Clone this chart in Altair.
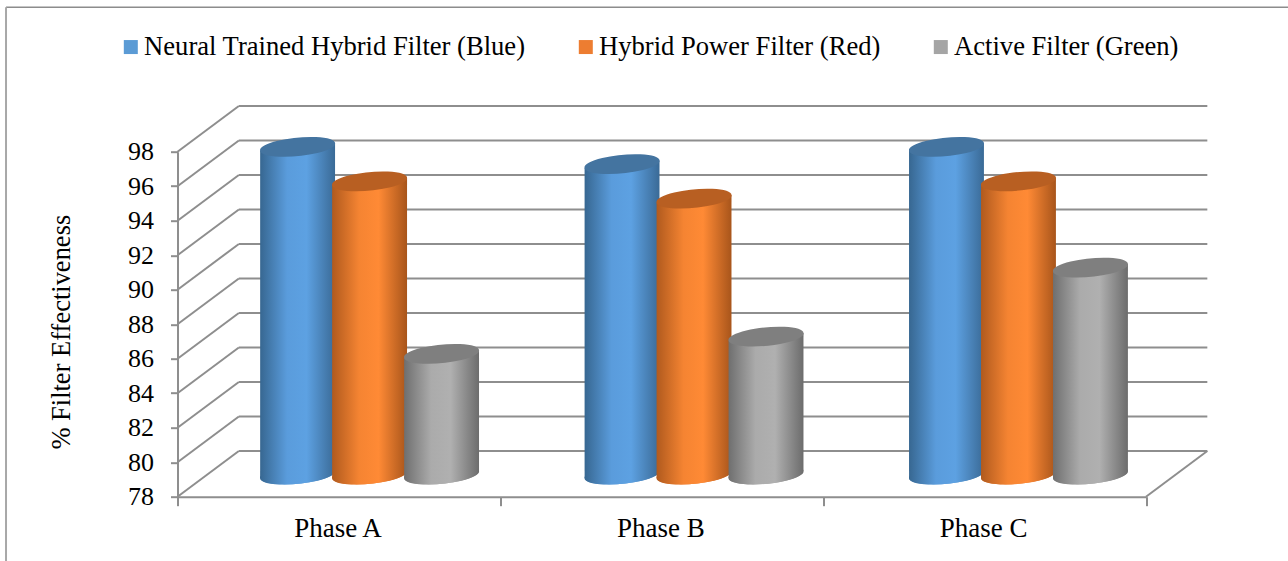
import altair as alt
import pandas as pd

phases = ["Phase A", "Phase B", "Phase C"]
series = [
    "Neural Trained Hybrid Filter (Blue)",
    "Hybrid Power Filter (Red)",
    "Active Filter (Green)",
]
effectiveness = [
    [97, 96, 97],
    [95, 94, 95],
    [85, 86, 90],
]
y_ticks = [78, 80, 82, 84, 86, 88, 90, 92, 94, 96, 98]
swatch_colors = ["#5B9BD5", "#ED7D31", "#A5A5A5"]
cap_colors = ["#4474A0", "#B85F22", "#7F7F7F"]
side_stops = [
    ["#376791", "#5A9CDC", "#5DA1E2", "#3A6A96"],
    ["#B05A1E", "#F58432", "#FF8A35", "#A8551B"],
    ["#6F6F6F", "#ABABAB", "#B0B0B0", "#6C6C6C"],
]
SERIF = "Liberation Serif"

# Oblique depth of the 3-D box, in axis units (phases across, percent upwards).
DEPTH_X = 0.19
DEPTH_Y = 2.65
MID_Y = 1.28          # lift of the cylinders, which stand halfway into the box
PITCH = 1.005         # distance between phase groups at mid depth
SLOT = 0.223          # spacing between neighbouring cylinders
HALF_W = 0.116        # half a cylinder's width
TILT = 0.21           # how far the elliptical ends lean
Y_FLOOR = y_ticks[0]

ELLIPSE = (
    "M-1,0.096 A1.005,0.24,-5.5,1,1,1,-0.096 "
    "A1.005,0.24,-5.5,1,1,-1,0.096 Z"
)
ELLIPSE_SIZE = 5625

x_scale = alt.Scale(domain=[0, 3], nice=False, zero=False)
y_scale = alt.Scale(domain=[78, 98], nice=False, zero=False)
GRID = "#8E8E8E"

x_axis = alt.Axis(
    values=[0, 1, 2, 3],
    title=None,
    grid=False,
    domainColor=GRID,
    domainWidth=2,
    tickColor=GRID,
    tickWidth=2,
    tickSize=9,
    labelFont=SERIF,
    labelFontSize=27,
    labelColor="#000000",
    labelOffset=160,
    labelPadding=10,
    labelFlush=False,
    labelOverlap=False,
    labelExpr="datum.value == 0 ? 'Phase A' : datum.value == 1 ? 'Phase B' : datum.value == 2 ? 'Phase C' : ''",
)
y_axis = alt.Axis(
    values=y_ticks,
    title="% Filter Effectiveness",
    titleFont=SERIF,
    titleFontSize=26.5,
    titleFontWeight="normal",
    titleColor="#000000",
    titleX=-102.5,
    titleY=180,
    grid=False,
    domainColor=GRID,
    domainWidth=2,
    tickColor=GRID,
    tickWidth=2,
    tickSize=7,
    labelFont=SERIF,
    labelFontSize=26,
    labelColor="#000000",
    labelPadding=17,
    labelOverlap=False,
)


def X(field):
    return alt.X(field, scale=x_scale, axis=x_axis)


def Y(field):
    return alt.Y(field, scale=y_scale, axis=y_axis)


# Walls: a horizontal line along the back and a diagonal up the side at each tick.
walls = pd.DataFrame({"v": y_ticks})
walls["x0"] = 0.0
walls["xd"] = DEPTH_X
walls["xe"] = 3 + DEPTH_X
walls["vd"] = walls["v"] + DEPTH_Y

back = alt.Chart(walls).mark_rule(color=GRID, strokeWidth=2).encode(
    x=X("xd:Q"),
    x2="xe:Q",
    y=Y("vd:Q"),
)
side = alt.Chart(walls).mark_rule(color=GRID, strokeWidth=2).encode(
    x=X("x0:Q"),
    x2="xd:Q",
    y=Y("v:Q"),
    y2="vd:Q",
)
floor_edge = alt.Chart(
    pd.DataFrame({"x": [3.0], "xd": [3 + DEPTH_X], "v": [Y_FLOOR], "vd": [Y_FLOOR + DEPTH_Y]})
).mark_rule(color=GRID, strokeWidth=2).encode(
    x=X("x:Q"),
    x2="xd:Q",
    y=Y("v:Q"),
    y2="vd:Q",
)

# Outline of the chart object along its top and left edges.
frame_top = alt.Chart(pd.DataFrame({"a": [0]})).mark_rule(color="#8C8C8C", strokeWidth=1.5).encode(
    x=alt.value(-171.5), x2=alt.value(1110.5), y=alt.value(-144.5)
)
frame_left = alt.Chart(pd.DataFrame({"a": [0]})).mark_rule(color="#A8A8A8", strokeWidth=2).encode(
    x=alt.value(-171.5), y=alt.value(-144.5), y2=alt.value(410)
)


def gradient(stops):
    return alt.LinearGradient(
        gradient="linear",
        x1=0, x2=1, y1=0, y2=0,
        stops=[
            alt.GradientStop(color=stops[0], offset=0),
            alt.GradientStop(color=stops[1], offset=0.36),
            alt.GradientStop(color=stops[2], offset=0.62),
            alt.GradientStop(color=stops[3], offset=1),
        ],
    )


layers = [back, side, floor_edge, frame_top, frame_left]
legend = alt.Legend(
    title=None,
    orient="none",
    legendX=-60,
    legendY=-118,
    direction="horizontal",
    symbolType="square",
    symbolSize=196,
    symbolOpacity=1,
    symbolStrokeWidth=0,
    labelFont=SERIF,
    labelFontSize=26.6,
    labelColor="#000000",
    labelLimit=600,
    labelOffset=0,
    columnPadding=46,
)

for s, name in enumerate(series):
    rows = []
    for p, phase in enumerate(phases):
        rows.append({
            "series": name,
            "phase": phase,
            "x": 0.5 + DEPTH_X / 2 + p * PITCH + (s - 1) * SLOT,
            "value": effectiveness[s][p],
        })
    centers = pd.DataFrame(rows)
    centers["y"] = Y_FLOOR + MID_Y
    centers["top"] = centers["value"] + MID_Y

    left = centers.assign(x=centers["x"] - HALF_W, side_top=centers["top"] - TILT, side_bot=centers["y"] - TILT)
    right = centers.assign(x=centers["x"] + HALF_W, side_top=centers["top"] + TILT, side_bot=centers["y"] + TILT)
    body = pd.concat([left, right])

    base_key = alt.Chart(centers).mark_point(
        shape=ELLIPSE, filled=True, size=ELLIPSE_SIZE - 150, opacity=1
    ).encode(
        x=X("x:Q"),
        y=Y("y:Q"),
        color=alt.Color(
            "series:N",
            scale=alt.Scale(domain=series, range=swatch_colors),
            legend=legend,
        ),
    )
    base = alt.Chart(centers).mark_point(
        shape=ELLIPSE, filled=True, size=ELLIPSE_SIZE, opacity=1, fill=gradient(side_stops[s])
    ).encode(x=X("x:Q"), y=Y("y:Q"))
    wall = alt.Chart(body).mark_area(fill=gradient(side_stops[s]), opacity=1).encode(
        x=X("x:Q"),
        y=Y("side_top:Q"),
        y2="side_bot:Q",
        detail="phase:N",
    )
    cap = alt.Chart(centers).mark_point(
        shape=ELLIPSE, filled=True, size=ELLIPSE_SIZE, opacity=1, color=cap_colors[s]
    ).encode(
        x=X("x:Q"),
        y=Y("top:Q"),
    )
    layers += [base_key, base, wall, cap]

chart = alt.layer(*layers).properties(
    width=968.5,
    height=345,
    padding={"left": 177.5, "top": 151.7, "right": 142, "bottom": 64},
    autosize=alt.AutoSizeParams(type="none"),
    background="#FFFFFF",
).configure_view(stroke=None)

chart.save("out.html", embed_options={"renderer": "svg", "actions": False})
